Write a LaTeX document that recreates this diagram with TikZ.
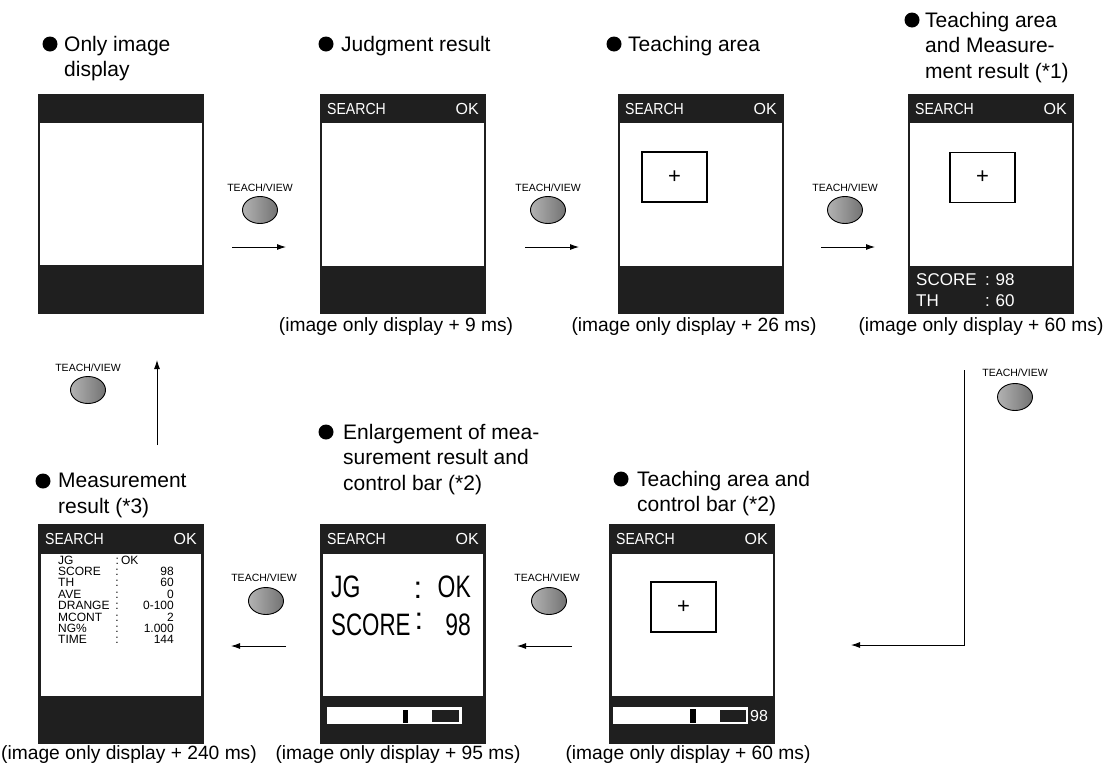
\documentclass[tikz,border=0pt]{standalone}
\usepackage{fontspec}
\usepackage{graphicx}
\usetikzlibrary{shapes.geometric,arrows.meta}
\setmainfont{Liberation Sans}
\begin{document}
\begin{tikzpicture}[x=1pt,y=-1pt,
  scr/.style={fill=black!88,draw=none},
  win/.style={fill=white,draw=none},
  ttl/.style={anchor=north west,align=left,inner sep=0pt,font=\fontsize{21}{25.5}\selectfont},
  dot/.style={circle,fill=black,inner sep=0pt,minimum size=15pt},
  captxt/.style={anchor=center,inner sep=0pt,font=\fontsize{19.2}{22}\selectfont},
  bartxt/.style={inner sep=0pt,text=white,font=\fontsize{16}{18}\selectfont},
  btnlbl/.style={inner sep=0pt,font=\fontsize{10.5}{12}\selectfont},
  btn/.style={ellipse,minimum width=35pt,minimum height=27pt,inner sep=0pt,draw=black,line width=0.9pt,left color=black!30,right color=black!55},
  arr/.style={-{Latex[length=9pt,width=6pt]},line width=0.9pt},
  tbox/.style={draw=black,line width=1.2pt,fill=white,minimum width=65pt,minimum height=50pt,inner sep=0pt,font=\fontsize{22}{22}\selectfont},
  lst/.style={inner sep=0pt,text height=8.8pt,text depth=0.6pt,font=\fontsize{12}{12}\selectfont},
  big/.style={inner sep=0pt,font=\fontsize{31}{31}\selectfont}
]
\useasboundingbox (0,0) rectangle (1111,769);

%================ TOP ROW =================
% Screen 1
\fill[scr] (38,94) rectangle (204,314);
\fill[win] (40,123) rectangle (202,265);
\node[ttl] (t1) at (64,36) {Only image\\display};
\node[dot] (d1) at (50,44) {};

% Screen 2
\fill[scr] (320,94) rectangle (486,314);
\fill[win] (322,123) rectangle (484,266);
\node[bartxt,anchor=west] (s2a) at (327,109) {\scalebox{0.88}[1]{SEARCH}};
\node[bartxt,anchor=east] (s2b) at (479,109) {OK};
\node[ttl] (t2) at (341,36) {Judgment result};
\node[dot] (d2) at (326,44) {};
\node[captxt] (c2) at (396,327) {(image only display + 9 ms)};

% Screen 3
\fill[scr] (618,94) rectangle (784,314);
\fill[win] (620,123) rectangle (782,266);
\node[bartxt,anchor=west] (s3a) at (625,109) {\scalebox{0.88}[1]{SEARCH}};
\node[bartxt,anchor=east] (s3b) at (777,109) {OK};
\node[tbox] (b3) at (674.5,177) {+};
\node[ttl] (t3) at (628,36) {Teaching area};
\node[dot] (d3) at (614,44) {};
\node[captxt] (c3) at (694,327) {(image only display + 26 ms)};

% Screen 4
\fill[scr] (908,94) rectangle (1074,314);
\fill[win] (910,123) rectangle (1072,266);
\node[bartxt,anchor=west] (s4a) at (915,109) {\scalebox{0.88}[1]{SEARCH}};
\node[bartxt,anchor=east] (s4b) at (1067,109) {OK};
\node[tbox] (b4) at (982.5,177.5) {+};
\node[bartxt,anchor=west,font=\fontsize{17}{17}\selectfont] (s4c) at (916,280) {SCORE};
\node[bartxt,anchor=west,font=\fontsize{17}{17}\selectfont] (s4d) at (916,301) {TH};
\node[bartxt,anchor=west,font=\fontsize{17}{17}\selectfont] (s4e) at (985,280) {:\,\,98};
\node[bartxt,anchor=west,font=\fontsize{17}{17}\selectfont] (s4f) at (985,301) {:\,\,60};
\node[ttl] (t4) at (925,12) {Teaching area\\and Measure-\\ment result (*1)};
\node[dot] (d4) at (912,20) {};
\node[captxt] (c4) at (981,327) {(image only display + 60 ms)};

% Top row buttons and arrows
\node[btnlbl] (l1) at (260,188) {TEACH/VIEW};
\node[btn] (k1) at (260,210) {};
\coordinate (a1s) at (232,247); \coordinate (a1e) at (286,247);
\draw[arr] (a1s) -- (a1e);

\node[btnlbl] (l2) at (548,188) {TEACH/VIEW};
\node[btn] (k2) at (548,210) {};
\coordinate (a2s) at (525,247); \coordinate (a2e) at (579,247);
\draw[arr] (a2s) -- (a2e);

\node[btnlbl] (l3) at (845,188) {TEACH/VIEW};
\node[btn] (k3) at (845,210) {};
\coordinate (a3s) at (821,247); \coordinate (a3e) at (875,247);
\draw[arr] (a3s) -- (a3e);

% right connector
\node[btnlbl] (l4) at (1015,373) {TEACH/VIEW};
\node[btn] (k4) at (1015,397) {};
\coordinate (r1) at (964,370);
\coordinate (r2) at (964,645);
\coordinate (r3) at (851,645);
\draw[arr] (r1) -- (r2) -- (r3);

% left return
\node[btnlbl] (l5) at (88,368) {TEACH/VIEW};
\node[btn] (k5) at (88,390) {};
\coordinate (u1) at (157,445); \coordinate (u2) at (157,360);
\draw[arr] (u1) -- (u2);

%================ BOTTOM ROW =================
% Screen 5 (Measurement result)
\fill[scr] (38,524) rectangle (204,744);
\fill[win] (41,554) rectangle (201,696);
\node[bartxt,anchor=west] (s5a) at (45,539) {\scalebox{0.88}[1]{SEARCH}};
\node[bartxt,anchor=east] (s5b) at (197,539) {OK};
\node[ttl] (t5) at (58,473) {Measurement\\result (*3)};
\node[dot] (d5) at (43,481) {};
\node[captxt] (c5) at (129,755) {(image only display + 240 ms)};
\foreach \lab/\val [count=\i from 0] in {SCORE/98,TH/60,AVE/0,DRANGE/0-100,MCONT/2,NG\%/1.000,TIME/144}{
  \node[lst,anchor=west] (m\i a) at (58,571.4+11.4*\i) {\lab};
  \node[lst,anchor=center] (m\i b) at (117,571.4+11.4*\i) {:};
  \node[lst,anchor=east] (m\i c) at (174,571.4+11.4*\i) {\val};
}
\node[lst,anchor=west] (mja) at (58,560) {JG};
\node[lst,anchor=west] (mjb) at (115.5,560) {:\,OK};

% Screen 6 (Enlargement)
\fill[scr] (320,524) rectangle (486,744);
\fill[win] (323,554) rectangle (483,696);
\node[bartxt,anchor=west] (s6a) at (327,539) {\scalebox{0.88}[1]{SEARCH}};
\node[bartxt,anchor=east] (s6b) at (479,539) {OK};
\node[big,anchor=west] (e1) at (331,587) {\scalebox{0.74}[1]{JG}};
\node[big,anchor=center] (e2) at (418,590) {:};
\node[big,anchor=east] (e3) at (471,587) {\scalebox{0.74}[1]{OK}};
\node[big,anchor=west] (e4) at (331,625) {\scalebox{0.72}[1]{SCORE}};
\node[big,anchor=center] (e5) at (419,621) {:};
\node[big,anchor=east] (e6) at (471,625) {\scalebox{0.74}[1]{98}};
\fill[white] (327,707) rectangle (462,724);
\fill[black] (403,710) rectangle (408,723);
\fill[black!88] (432,710) rectangle (459,722);
\node[ttl] (t6) at (343,424) {Enlargement of mea-\\surement result and\\control bar (*2)};
\node[dot] (d6) at (326,432) {};
\node[captxt] (c6) at (398,755) {(image only display + 95 ms)};

% Screen 7 (Teaching area and control bar)
\fill[scr] (609,524) rectangle (775,744);
\fill[win] (612,554) rectangle (773,696);
\node[bartxt,anchor=west] (s7a) at (616,539) {\scalebox{0.88}[1]{SEARCH}};
\node[bartxt,anchor=east] (s7b) at (768,539) {OK};
\node[tbox] (b7) at (683.5,607) {+};
\fill[white] (613,707) rectangle (748,724);
\fill[black] (690,709) rectangle (696,723);
\fill[black!88] (720,710) rectangle (746,722);
\node[bartxt,anchor=west] (s7c) at (750,715.5) {98};
\node[ttl] (t7) at (637,471) {Teaching area and\\control bar (*2)};
\node[dot] (d7) at (621,479) {};
\node[captxt] (c7) at (688,755) {(image only display + 60 ms)};

% bottom buttons and arrows
\node[btnlbl] (l6) at (264,578) {TEACH/VIEW};
\node[btn] (k6) at (266,601) {};
\coordinate (a6s) at (286,646); \coordinate (a6e) at (231,646);
\draw[arr] (a6s) -- (a6e);

\node[btnlbl] (l7) at (547,578) {TEACH/VIEW};
\node[btn] (k7) at (549,601) {};
\coordinate (a7s) at (572,646); \coordinate (a7e) at (517,646);
\draw[arr] (a7s) -- (a7e);
\end{tikzpicture}
\end{document}
